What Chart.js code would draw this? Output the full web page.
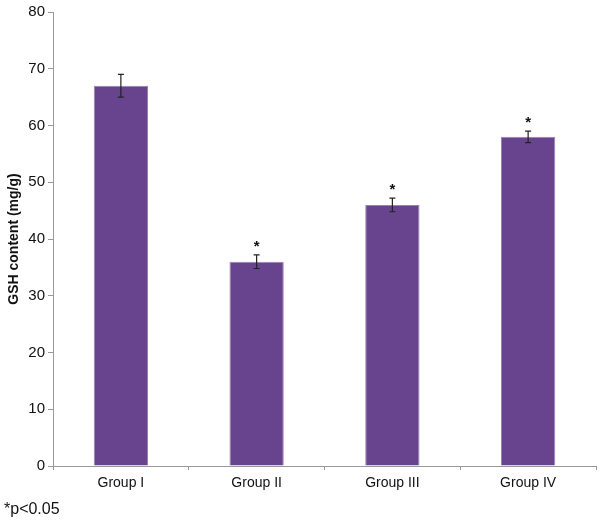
<!DOCTYPE html>
<html>
<head>
<meta charset="utf-8">
<script src="https://cdn.jsdelivr.net/npm/chart.js@4/dist/chart.umd.min.js"></script>
<style>
  html, body { margin: 0; padding: 0; background: #fff; }
  #wrap { position: relative; width: 602px; height: 528px; }
  #note { position: absolute; left: 4px; top: 500px; font: 16px "Liberation Sans", Arial, sans-serif; color: #111; }
</style>
</head>
<body>
<div id="wrap">
  <canvas id="myChart" width="602" height="528"></canvas>
  <div id="note">*p&lt;0.05</div>
</div>
<script>
var groups = ['Group I', 'Group II', 'Group III', 'Group IV'];
var gsh = [67, 36, 46, 58];
var gshErr = [2, 1.2, 1.2, 1.0];
var signif = ['', '*', '*', '*'];

// error bars and significance stars, drawn through the chart's scales
var errorBars = {
	id: 'errorBars',
	afterDatasetsDraw: function(chart) {
		var c = chart.ctx;
		var x = chart.scales.x, y = chart.scales.y;
		c.save();
		c.strokeStyle = '#222';
		c.lineWidth = 1.2;
		for (var i = 0; i < gsh.length; i++) {
			var px = x.getPixelForValue(i);
			var top = y.getPixelForValue(gsh[i] + gshErr[i]);
			var bot = y.getPixelForValue(gsh[i] - gshErr[i]);
			c.beginPath();
			c.moveTo(px, top); c.lineTo(px, bot);
			c.moveTo(px - 3, top); c.lineTo(px + 3, top);
			c.moveTo(px - 3, bot); c.lineTo(px + 3, bot);
			c.stroke();
			if (signif[i]) {
				c.fillStyle = '#111';
				c.font = 'bold 15px "Liberation Sans", Arial, sans-serif';
				c.textAlign = 'center';
				c.textBaseline = 'middle';
				c.fillText(signif[i], px, top - 8);
			}
		}
		c.restore();
	}
};

var ctx = document.getElementById('myChart').getContext('2d');
var myChart = new Chart(ctx, {
	type: 'bar',
	data: {
		labels: groups,
		datasets: [{
			label: 'GSH content',
			data: gsh,
			backgroundColor: '#68448e',
			borderColor: '#9b82b8',
			borderWidth: 1,
			categoryPercentage: 1,
			barPercentage: 0.4
		}]
	},
	options: {
		responsive: false,
		animation: false,
		layout: { padding: { left: 6, top: 9, right: 6, bottom: 0 } },
		plugins: { legend: { display: false }, tooltip: { enabled: false } },
		scales: {
			x: {
				grid: { drawOnChartArea: false, tickLength: 4, color: '#999' },
				border: { color: '#999' },
				ticks: { color: '#111', font: { family: '"Liberation Sans", Arial, sans-serif', size: 14 }, padding: 5 },
				afterFit: function(s) { s.height = 62; }
			},
			y: {
				min: 0,
				max: 80,
				ticks: { stepSize: 10, color: '#111', font: { family: '"Liberation Sans", Arial, sans-serif', size: 15 }, padding: 3 },
				grid: { drawOnChartArea: false, tickLength: 5, color: '#999' },
				border: { color: '#999' },
				title: { display: true, text: 'GSH content (mg/g)', color: '#111', font: { family: '"Liberation Sans", Arial, sans-serif', size: 14, weight: 'bold' }, padding: 0 },
				afterFit: function(s) { s.width = 47; }
			}
		}
	},
	plugins: [errorBars]
});
</script>
</body>
</html>
